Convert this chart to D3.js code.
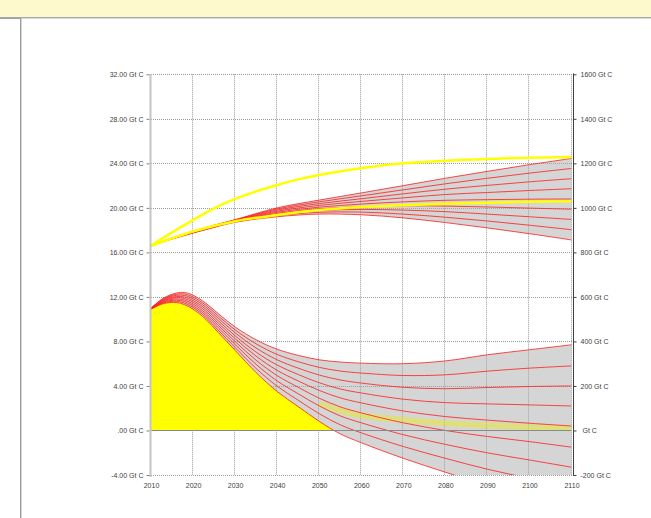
<!DOCTYPE html>
<html>
<head>
<meta charset="utf-8">
<script src="https://cdn.jsdelivr.net/npm/d3@7"></script>
<style>
  body { margin: 0; background: #fff; }
  svg { display: block; font-family: "Liberation Sans", Arial, sans-serif; }
</style>
</head>
<body>
<svg id="chart" width="651" height="518"></svg>
<script>
// ---- data ----
const xTicks = [2010, 2020, 2030, 2040, 2050, 2060, 2070, 2080, 2090, 2100, 2110];
const leftTicks = [-4, 0, 4, 8, 12, 16, 20, 24, 28, 32];
const leftLabels = ["-4.00 Gt C", ".00 Gt C", "4.00 Gt C", "8.00 Gt C", "12.00 Gt C", "16.00 Gt C",
                    "20.00 Gt C", "24.00 Gt C", "28.00 Gt C", "32.00 Gt C"];
const rightTicks = [-200, 0, 200, 400, 600, 800, 1000, 1200, 1400, 1600];
const rightLabels = ["-200 Gt C", "\u00a0Gt C", "200 Gt C", "400 Gt C", "600 Gt C", "800 Gt C",
                     "1000 Gt C", "1200 Gt C", "1400 Gt C", "1600 Gt C"];

// emission scenarios (left axis, Gt C per year), highest first
const emissionYears = [2010, 2013, 2016, 2018, 2020, 2023, 2026, 2030, 2035, 2040, 2045, 2050, 2055, 2060, 2070, 2080, 2090, 2100, 2110];
const emissionPaths = [
  [11.0, 11.9, 12.35, 12.4, 12.15, 11.45, 10.5, 9.3, 8.15, 7.3, 6.75, 6.35, 6.15, 6.05, 6.0, 6.25, 6.8, 7.25, 7.7],
  [10.99, 11.84, 12.24, 12.26, 11.99, 11.27, 10.29, 9.04, 7.78, 6.83, 6.18, 5.67, 5.34, 5.16, 4.94, 5.0, 5.33, 5.6, 5.8],
  [10.97, 11.78, 12.14, 12.13, 11.84, 11.09, 10.08, 8.78, 7.41, 6.35, 5.6, 4.98, 4.54, 4.26, 3.88, 3.75, 3.86, 3.95, 4.0],
  [10.96, 11.71, 12.03, 11.99, 11.68, 10.91, 9.86, 8.51, 7.04, 5.88, 5.03, 4.29, 3.73, 3.37, 2.81, 2.5, 2.39, 2.3, 2.2],
  [10.95, 11.65, 11.93, 11.85, 11.53, 10.73, 9.65, 8.25, 6.68, 5.4, 4.45, 3.6, 2.93, 2.48, 1.75, 1.25, 0.93, 0.65, 0.4],
  [10.94, 11.59, 11.82, 11.71, 11.37, 10.54, 9.44, 7.99, 6.31, 4.93, 3.88, 2.9, 2.12, 1.58, 0.69, 0.0, -0.54, -1.0, -1.5],
  [10.92, 11.53, 11.71, 11.58, 11.21, 10.36, 9.23, 7.73, 5.94, 4.45, 3.3, 2.21, 1.31, 0.69, -0.38, -1.25, -2.01, -2.65, -3.3],
  [10.91, 11.46, 11.61, 11.44, 11.06, 10.18, 9.01, 7.46, 5.57, 3.98, 2.72, 1.51, 0.51, -0.21, -1.44, -2.5, -3.48, -4.3, -5.1],
  [10.9, 11.4, 11.5, 11.3, 10.9, 10.0, 8.8, 7.2, 5.2, 3.5, 2.15, 0.82, -0.3, -1.1, -2.5, -3.75, -4.95, -5.95, -6.9]
];

// atmospheric carbon scenarios (right axis, Gt C), highest first
const carbonYears = [2010, 2015, 2020, 2025, 2030, 2040, 2050, 2060, 2070, 2080, 2090, 2100, 2110];
const carbonPaths = [
  [830, 865, 895, 922, 947, 1000, 1035, 1067, 1100, 1133, 1164, 1194, 1222],
  [830, 864, 894, 921, 946, 995, 1027, 1054, 1081, 1108, 1133, 1156, 1177],
  [830, 864, 893, 920, 944, 990, 1019, 1041, 1063, 1084, 1101, 1117, 1131],
  [830, 863, 892, 919, 943, 985, 1011, 1029, 1045, 1060, 1069, 1078, 1086],
  [830, 862, 891, 918, 941, 980, 1003, 1017, 1027, 1034, 1037, 1039, 1040],
  [830, 862, 890, 916, 940, 975, 996, 1005, 1009, 1008, 1004, 999, 994],
  [830, 861, 889, 915, 938, 970, 988, 993, 990, 983, 972, 960, 948],
  [830, 861, 888, 914, 937, 965, 980, 981, 972, 958, 941, 922, 902],
  [830, 860, 887, 912, 935, 960, 972, 969, 955, 934, 910, 884, 856]
];

// highlighted (yellow) paths
const carbonHighYears = [2010, 2015, 2020, 2025, 2030, 2035, 2040, 2045, 2050, 2060, 2070, 2080, 2090, 2100, 2110];
const carbonHigh = [830, 890, 945, 998, 1040, 1074, 1103, 1128, 1148, 1178, 1200, 1212, 1220, 1225, 1228];
const carbonMidYears = [2010, 2020, 2030, 2040, 2050, 2060, 2070, 2080, 2090, 2100, 2110];
const carbonMid = [830, 894, 940, 968, 990, 1004, 1012, 1018, 1023, 1027, 1030];
const emissionMidYears = [2050, 2055, 2060, 2070, 2080, 2090, 2100, 2110];
const emissionMid = [2.4, 1.8, 1.35, 0.95, 0.65, 0.45, 0.3, 0.18];

// ---- layout ----
const W = 651, H = 518;
const plot = { left: 151, right: 571.5, top: 74.3, bottom: 475 };

const svg = d3.select('#chart');

// page chrome: yellow banner and frame lines
svg.append('rect').attr('x', 0).attr('y', 0).attr('width', W).attr('height', 17).attr('fill', '#fdf9cd');
svg.append('line').attr('x1', 0).attr('x2', W).attr('y1', 17.5).attr('y2', 17.5).attr('stroke', '#a8a8a8');
svg.append('line').attr('x1', 0).attr('x2', W).attr('y1', 18.5).attr('y2', 18.5).attr('stroke', '#dadada');
svg.append('line').attr('x1', 0).attr('x2', 21).attr('y1', 18.5).attr('y2', 18.5).attr('stroke', '#a0a0a0');
svg.append('line').attr('x1', 20.5).attr('x2', 20.5).attr('y1', 18).attr('y2', H).attr('stroke', '#9c9c9c');
svg.append('line').attr('x1', 21.5).attr('x2', 21.5).attr('y1', 18).attr('y2', H).attr('stroke', '#d4d4d4');

const x = d3.scaleLinear().domain([2010, 2110]).range([plot.left, plot.right]);
const yL = d3.scaleLinear().domain([-4, 32]).range([plot.bottom, plot.top]);
const yR = d3.scaleLinear().domain([-200, 1600]).range([plot.bottom, plot.top]);

const defs = svg.append('defs');
defs.append('clipPath').attr('id', 'plotClip')
  .append('rect')
  .attr('x', plot.left).attr('y', plot.top)
  .attr('width', plot.right - plot.left).attr('height', plot.bottom - plot.top);
defs.append('clipPath').attr('id', 'posClip')
  .append('rect')
  .attr('x', plot.left).attr('y', plot.top)
  .attr('width', plot.right - plot.left).attr('height', yL(0) - plot.top);

// gridlines
const grid = svg.append('g').attr('class', 'grid')
  .attr('stroke', '#9a9a9a').attr('stroke-dasharray', '1,1').attr('stroke-width', 1);
grid.selectAll('.hgrid')
  .data(leftTicks.filter(d => d !== 0))
  .join('line')
  .attr('class', 'hgrid')
  .attr('x1', plot.left).attr('x2', plot.right + 2)
  .attr('y1', d => Math.round(yL(d)) + 0.5).attr('y2', d => Math.round(yL(d)) + 0.5);
grid.selectAll('.vgrid')
  .data(xTicks.filter(d => d !== 2010))
  .join('line')
  .attr('class', 'vgrid')
  .attr('x1', d => Math.round(x(d)) - 0.5).attr('x2', d => Math.round(x(d)) - 0.5)
  .attr('y1', plot.top).attr('y2', plot.bottom);

const curve = d3.curveCatmullRom.alpha(0.5);
const marks = svg.append('g').attr('clip-path', 'url(#plotClip)');

// yellow area: positive part of the lowest emission path
const lowestEmission = emissionPaths[emissionPaths.length - 1];
const highestEmission = emissionPaths[0];
marks.append('path')
  .datum(emissionYears.map((yr, i) => [yr, lowestEmission[i]]))
  .attr('clip-path', 'url(#posClip)')
  .attr('fill', '#ffff00')
  .attr('d', d3.area().curve(curve).x(d => x(d[0])).y0(yL(0)).y1(d => yL(d[1])));

// zero line
svg.append('line')
  .attr('x1', plot.left).attr('x2', plot.right)
  .attr('y1', Math.round(yL(0)) + 0.5).attr('y2', Math.round(yL(0)) + 0.5)
  .attr('stroke', '#8a8a8a');

// fan shading between the extreme paths
marks.append('path')
  .datum(emissionYears.map((yr, i) => [yr, highestEmission[i], lowestEmission[i]]))
  .attr('fill', '#a8a8a8').attr('fill-opacity', 0.48)
  .attr('d', d3.area().curve(curve).x(d => x(d[0])).y0(d => yL(d[2])).y1(d => yL(d[1])));

const carbonTop = carbonPaths[0], carbonLow = carbonPaths[carbonPaths.length - 1];
marks.append('path')
  .datum(carbonYears.map((yr, i) => [yr, carbonTop[i], carbonLow[i]]))
  .attr('fill', '#a8a8a8').attr('fill-opacity', 0.48)
  .attr('d', d3.area().curve(curve).x(d => x(d[0])).y0(d => yR(d[2])).y1(d => yR(d[1])));

// faint yellow emission path showing through the fan
marks.append('path')
  .datum(emissionMidYears.map((yr, i) => [yr, emissionMid[i]]))
  .attr('fill', 'none').attr('stroke', '#eeee00').attr('stroke-width', 6).attr('stroke-opacity', 0.4)
  .attr('d', d3.line().curve(curve).x(d => x(d[0])).y(d => yL(d[1])));

// red scenario lines
const emissionLine = d3.line().curve(curve).x((d, i) => x(emissionYears[i])).y(d => yL(d));
marks.selectAll('.emission')
  .data(emissionPaths)
  .join('path')
  .attr('class', 'emission')
  .attr('fill', 'none').attr('stroke', '#ff1a1a').attr('stroke-width', 0.8)
  .attr('d', emissionLine);

const carbonLine = d3.line().curve(curve).x((d, i) => x(carbonYears[i])).y(d => yR(d));
marks.selectAll('.carbon')
  .data(carbonPaths)
  .join('path')
  .attr('class', 'carbon')
  .attr('fill', 'none').attr('stroke', '#ff1a1a').attr('stroke-width', 0.8)
  .attr('d', carbonLine);

// yellow carbon paths on top
marks.append('path')
  .datum(carbonHighYears.map((yr, i) => [yr, carbonHigh[i]]))
  .attr('fill', 'none').attr('stroke', '#ffff00').attr('stroke-width', 2.5)
  .attr('d', d3.line().curve(curve).x(d => x(d[0])).y(d => yR(d[1])));
marks.append('path')
  .datum(carbonMidYears.map((yr, i) => [yr, carbonMid[i]]))
  .attr('fill', 'none').attr('stroke', '#ffff00').attr('stroke-width', 2.5)
  .attr('d', d3.line().curve(curve).x(d => x(d[0])).y(d => yR(d[1])));

// ---- axes ----
const labelColor = '#404040';

// left axis line (light, thick)
svg.append('line')
  .attr('x1', plot.left - 0.5).attr('x2', plot.left - 0.5)
  .attr('y1', plot.top).attr('y2', plot.bottom + 2)
  .attr('stroke', '#c4c4c4').attr('stroke-width', 2);

const leftAxis = svg.append('g')
  .attr('transform', `translate(${plot.left - 1.5},0)`)
  .call(d3.axisLeft(yL).tickValues(leftTicks).tickSize(3).tickPadding(3)
    .tickFormat((d, i) => leftLabels[i]));
leftAxis.select('.domain').remove();
leftAxis.selectAll('.tick line').attr('stroke', '#808080');
leftAxis.selectAll('.tick text')
  .attr('fill', labelColor).style('font-size', '7px')
  .style('font-family', '"Liberation Sans", Arial, sans-serif');

const rightX = plot.right + 2;
const rightAxis = svg.append('g')
  .attr('transform', `translate(${rightX},0)`)
  .call(d3.axisRight(yR).tickValues(rightTicks).tickSize(3).tickPadding(4)
    .tickFormat((d, i) => rightLabels[i]));
rightAxis.select('.domain').remove();
rightAxis.selectAll('.tick line').attr('stroke', '#404040');
rightAxis.selectAll('.tick text')
  .attr('fill', labelColor).style('font-size', '7px')
  .style('font-family', '"Liberation Sans", Arial, sans-serif');
svg.append('line')
  .attr('x1', rightX).attr('x2', rightX)
  .attr('y1', plot.top - 1).attr('y2', plot.bottom + 1)
  .attr('stroke', '#404040').attr('stroke-width', 1);

const bottomAxis = svg.append('g')
  .attr('transform', `translate(0,${plot.bottom})`)
  .call(d3.axisBottom(x).tickValues(xTicks).tickSize(0).tickPadding(8).tickFormat(d3.format('d')));
bottomAxis.select('.domain').remove();
bottomAxis.selectAll('.tick text')
  .attr('fill', labelColor).style('font-size', '7px')
  .style('font-family', '"Liberation Sans", Arial, sans-serif');
</script>
</body>
</html>
